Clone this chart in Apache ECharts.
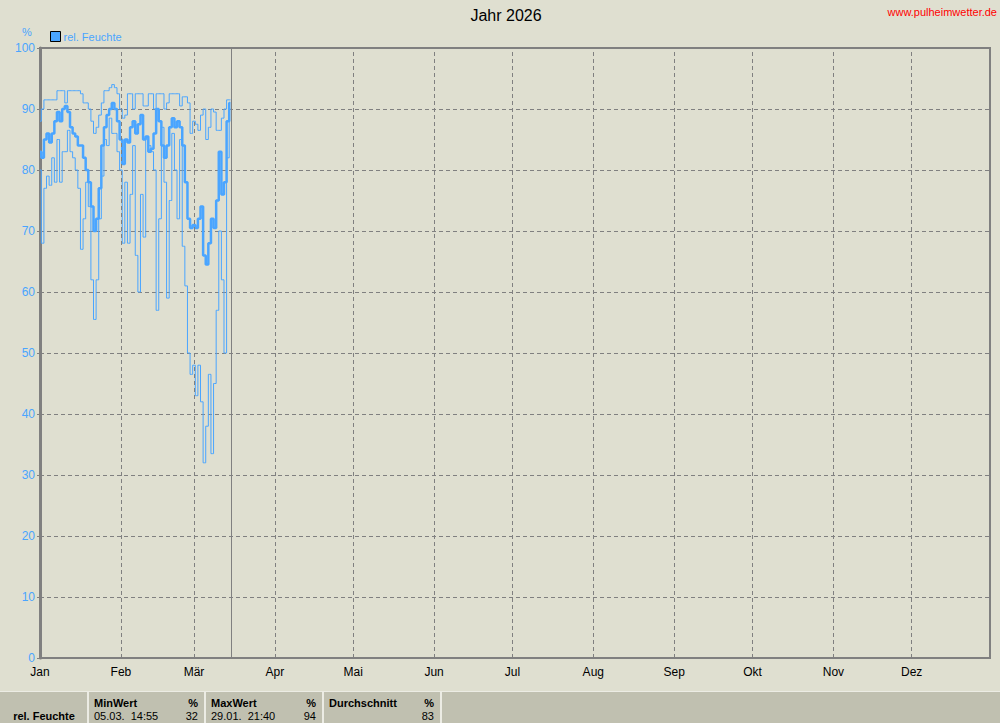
<!DOCTYPE html>
<html>
<head>
<meta charset="utf-8">
<script src="https://cdn.jsdelivr.net/npm/echarts@6/dist/echarts.min.js"></script>
<style>
html,body{margin:0;padding:0;background:#dfdfd0;}
#chart{width:1000px;height:723px;}
</style>
</head>
<body>
<div id="chart"></div>
<script>
// ---- data ----
const titleText = 'Jahr 2026';
const siteText = 'www.pulheimwetter.de';
const seriesName = 'rel. Feuchte';
const unitText = '%';
const monthNames = ['Jan','Feb','Mär','Apr','Mai','Jun','Jul','Aug','Sep','Okt','Nov','Dez'];
const monthStartDays = [0,31,59,90,120,151,181,212,243,273,304,334];
const yearEndDay = 364;
const currentDay = 73.2;
// daily values from 1 Jan (day 0) to 15 Mar (day 73)
const humidityMax = [88,90,91.5,91.5,91.5,91.5,91.5,93,93,93,91,93,93,93,93,93,92.5,91,91,90,
  88,86,87,89,91,93,93,93.5,94,93.5,92.5,90,88.5,89,92.5,92.5,90,92.5,92.5,92.5,
  90.5,90.5,92.5,92.5,90,92.5,92.5,92.5,90,91,92.5,92.5,92.5,92.5,90.5,92,92,91,86,88,
  87.5,86.5,89,90,85,87,90,89.5,86.5,86.5,88.5,90,91.5,91.5];
const humidityMean = [83,82,85,86,84.5,86,88,89.5,88,90,90.5,89.5,87,86,85.5,84,84,82,80,78,
  74,70,72,77,84,87,89,90,91,90,88,85,81,85,84.5,87,88,86,87.5,89,
  85,85.5,83,83.5,86,90,88,84,82,84,87,88.5,87,88,87,84,78,72,70.5,71,
  70.5,72,74,66,64.5,68,72,70.5,75,83,76,78,88,91];
const humidityMin = [80,68,77,79,77.5,82,78,85,78,83,83,86.5,83,82,80,77,67,72,78,74,
  62,55.5,62,72,79,85,84,88.5,86,86,83,80,68,78,68,76,84,66,60,76,
  69,85.5,84,83,80,57,72,87,78,59,75,86,80,72,85,67.5,61,50,46.5,48,
  43,48,42,32,38,46.5,33.5,45,57,70,62,50,82,90];
const statHeaders = ['MinWert','MaxWert','Durchschnitt'];
const statTimes = ['05.03.  14:55','29.01.  21:40',''];
const statValues = [32,94,83];

// ---- styles ----
const BLUE = '#4aa5ff';
const GRAY = '#808080';
const FONT = 'Liberation Sans, Arial, sans-serif';

const chart = echarts.init(document.getElementById('chart'), null, {renderer:'svg'});

function toPairs(arr){ return arr.map((v,i)=>[i,v]); }

const lineBase = {
  type:'line', name: seriesName, showSymbol:false, symbol:'none', step:'middle',
  color: BLUE, z:3, animation:false, silent:true
};

// table graphics
const colX = [88, 205, 323, 441];
const tableTop = 691;
const rowA = 703, rowB = 716;
const tableEls = [
  {type:'rect', shape:{x:0,y:tableTop,width:1000,height:723-tableTop}, style:{fill:'#c0c0b0'}},
  {type:'rect', shape:{x:0,y:tableTop,width:1000,height:1}, style:{fill:'#ecece4'}},
  {type:'text', style:{text:seriesName, x:44, y:rowB, textAlign:'center', textVerticalAlign:'middle', font:'bold 11px '+FONT, fill:'#000'}}
];
colX.forEach(x=>{
  tableEls.push({type:'rect', shape:{x:x-1,y:tableTop,width:2,height:723-tableTop}, style:{fill:'#ecece4'}});
});
statHeaders.forEach((h,i)=>{
  const x0 = colX[i];
  const x1 = colX[i+1];
  tableEls.push({type:'text', style:{text:h, x:x0+6, y:rowA, textVerticalAlign:'middle', font:'bold 11px '+FONT, fill:'#000'}});
  tableEls.push({type:'text', style:{text:unitText, x:x1-7, y:rowA, textAlign:'right', textVerticalAlign:'middle', font:'bold 11px '+FONT, fill:'#000'}});
  if (statTimes[i]) tableEls.push({type:'text', style:{text:statTimes[i], x:x0+6, y:rowB, textVerticalAlign:'middle', font:'11px '+FONT, fill:'#000'}});
  tableEls.push({type:'text', style:{text:String(statValues[i]), x:x1-7, y:rowB, textAlign:'right', textVerticalAlign:'middle', font:'11px '+FONT, fill:'#000'}});
});

const option = {
  backgroundColor:'#dfdfd0',
  animation:false,
  textStyle:{fontFamily:FONT},
  grid:{left:40, right:10, top:48, bottom:65, show:true, borderColor:GRAY, borderWidth:2, backgroundColor:'transparent'},
  legend:{
    left:50, top:31, padding:0, icon:'rect', itemWidth:10, itemHeight:10, itemGap:6,
    itemStyle:{color:BLUE, borderColor:'#000', borderWidth:1},
    textStyle:{color:BLUE, fontSize:11, fontFamily:FONT, padding:[0,0,0,-2]},
    data:[seriesName], selectedMode:false
  },
  xAxis:{
    type:'value', min:0, max:yearEndDay,
    axisLine:{show:true, lineStyle:{color:GRAY, width:2}},
    axisTick:{show:false},
    splitLine:{show:false},
    axisLabel:{
      customValues: monthStartDays,
      formatter:(v)=>{ const i = monthStartDays.indexOf(v); return i>=0 ? monthNames[i] : ''; },
      color:'#000', fontSize:12, margin:8, fontFamily:FONT
    }
  },
  yAxis:{
    type:'value', min:0, max:100, interval:10,
    axisLine:{show:true, lineStyle:{color:GRAY, width:3}},
    axisTick:{show:true, length:3, lineStyle:{color:GRAY}},
    splitLine:{show:true, lineStyle:{color:GRAY, type:[4,3], width:1}},
    axisLabel:{color:BLUE, fontSize:12, margin:5, fontFamily:FONT}
  },
  graphic:[
    {type:'text', style:{text:titleText, x:506, y:15, textAlign:'center', textVerticalAlign:'middle', font:'16px '+FONT, fill:'#000'}},
    {type:'text', style:{text:siteText, x:997, y:12, textAlign:'right', textVerticalAlign:'middle', font:'11px '+FONT, fill:'#ff0000'}},
    {type:'text', style:{text:unitText, x:27, y:32, textAlign:'center', textVerticalAlign:'middle', font:'11px '+FONT, fill:BLUE}},
    ...tableEls
  ],
  series:[
    {type:'line', name:'grid', data:[], silent:true, z:1, animation:false,
      markLine:{silent:true, symbol:['none','none'], label:{show:false}, animation:false,
        lineStyle:{color:GRAY, type:[4,3], width:1},
        data: monthStartDays.slice(1).map(d=>({xAxis:d})).concat([{xAxis:currentDay, lineStyle:{type:'solid', color:GRAY, width:1}}])
      }
    },
    Object.assign({}, lineBase, {data:toPairs(humidityMax), lineStyle:{width:1, color:BLUE}}),
    Object.assign({}, lineBase, {data:toPairs(humidityMin), lineStyle:{width:1, color:BLUE}}),
    Object.assign({}, lineBase, {data:toPairs(humidityMean), lineStyle:{width:2.5, color:BLUE}})
  ]
};
chart.setOption(option);
</script>
</body>
</html>
